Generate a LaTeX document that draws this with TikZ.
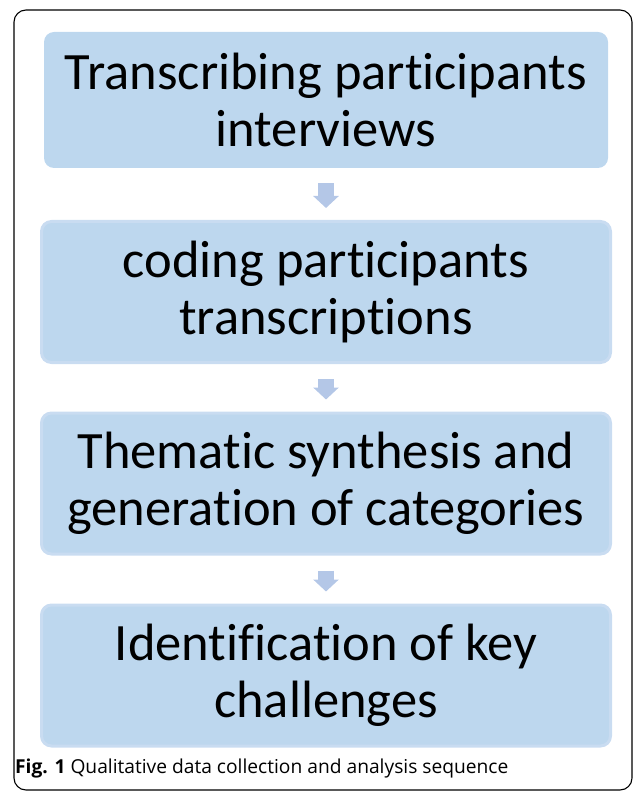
\documentclass[tikz,border=0pt]{standalone}
\usepackage{fontspec}
\setmainfont[Ligatures=NoCommon]{Carlito}
\newfontfamily\capfont{Open Sans}
\usetikzlibrary{arrows.meta}
\definecolor{boxblue}{HTML}{BDD7EE}
\definecolor{boxedge}{HTML}{C9DCF1}
\definecolor{arrowblue}{HTML}{B4C7E7}

\begin{document}
\begin{tikzpicture}[x=1pt, y=-1pt,
    stepbox/.style={fill=boxblue, rounded corners=10pt, align=center,
      font=\fontsize{52.5}{57}\selectfont, inner sep=0pt},
    edgedbox/.style={stepbox, draw=boxedge, line width=3pt,
      minimum width=569pt, minimum height=141pt},
    flow/.style={draw=arrowblue, line width=16pt,
      -{Triangle[width=25pt, length=12pt, fill=arrowblue]},
      shorten <=15pt, shorten >=12pt}]
          \useasboundingbox (0,0) rectangle (633,791);
          % outer frame, cut at the right and the bottom
          \draw[line width=1.1pt, rounded corners=12pt] (14,10) rectangle (632,790);
          \node[stepbox, minimum width=564pt, minimum height=136pt] (b1) at (326,100)
            {Transcribing participants\\interviews};
          \node[edgedbox] (b2) at (326,292) {coding participants\\transcriptions};
          \node[edgedbox] (b3) at (326,483.5) {Thematic synthesis and\\generation of categories};
          \node[edgedbox] (b4) at (326,675.5) {Identification of key\\challenges};
          \foreach \a/\b in {b1/b2, b2/b3, b3/b4}
          {
            \draw[flow] (\a.south) -- (\b.north);
          }
          \node[anchor=base west, inner sep=0pt, font=\capfont\fontsize{19.2}{22}\selectfont]
            (cap) at (15,773) {\textbf{Fig. 1} Qualitative data collection and analysis sequence};
        \end{tikzpicture}
\end{document}
